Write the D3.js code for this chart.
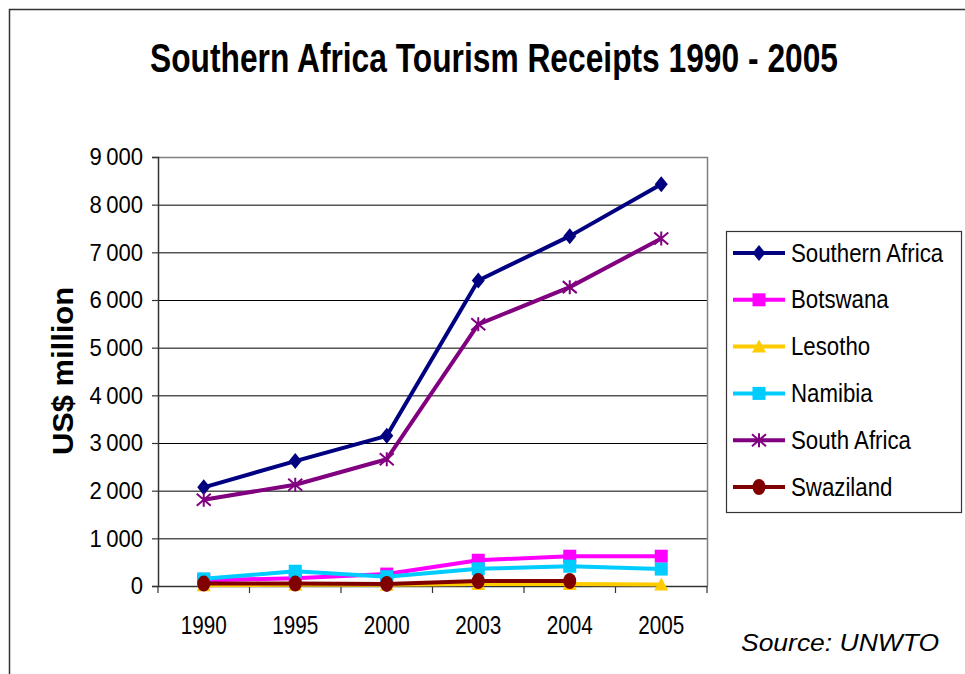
<!DOCTYPE html>
<html><head><meta charset="utf-8">
<script src="https://cdn.jsdelivr.net/npm/d3@7"></script>
<style>
body{margin:0;background:#fff}
svg{display:block}
text{font-family:"Liberation Sans",Arial,Helvetica,sans-serif;fill:#000}
</style>
</head><body>
<svg id="c" width="965" height="674"></svg>
<script>
// ---- data ----
const categories = ["1990","1995","2000","2003","2004","2005"];
const seriesNames = ["Southern Africa","Botswana","Lesotho","Namibia","South Africa","Swaziland"];
const southernAfrica = [2070,2620,3150,6410,7340,8430];
const botswana       = [117,165,250,540,625,625];
const lesotho        = [17,27,24,40,40,30];
const namibia        = [150,310,195,360,415,355];
const southAfrica    = [1810,2125,2660,5490,6270,7290];
const swaziland      = [50,50,43,105,105,null];
const yTicks = [0,1000,2000,3000,4000,5000,6000,7000,8000,9000];
const seriesColors  = ["#000080","#FF00FF","#FFCC00","#00CCFF","#800080","#800000"];
const seriesMarkers = ["diamond","square","triangle","square","star","circle"];
const titleText = "Southern Africa Tourism Receipts 1990 - 2005";
const yAxisTitle = "US$ million";
const sourceText = "Source: UNWTO";

const seriesValues = [southernAfrica,botswana,lesotho,namibia,southAfrica,swaziland];
const series = seriesNames.map((n,i)=>({name:n,values:seriesValues[i],color:seriesColors[i],marker:seriesMarkers[i]}));

const svg = d3.select("#c");
function fit(sel, w){ sel.each(function(){ this.setAttribute("textLength", w); this.setAttribute("lengthAdjust","spacingAndGlyphs"); }); }
function squeeze(sel, f){ sel.each(function(){ const L=this.getComputedTextLength(); this.setAttribute("textLength", L*f); this.setAttribute("lengthAdjust","spacingAndGlyphs"); }); }

// outer frame
svg.append("rect").attr("x",9.5).attr("y",9.5).attr("width",1000).attr("height",1000)
  .attr("fill","none").attr("stroke","#333").attr("stroke-width",1.5);

const plot = {left:158, right:707, top:157, bottom:586};
const x = d3.scaleBand().domain(categories).range([plot.left, plot.right]).padding(0);
const y = d3.scaleLinear().domain([0,9000]).range([plot.bottom, plot.top]);

// gridlines
svg.append("g").selectAll("line").data(yTicks.filter(v=>v>0 && v<9000)).join("line")
  .attr("x1",plot.left).attr("x2",plot.right).attr("y1",d=>y(d)+0.5).attr("y2",d=>y(d)+0.5)
  .attr("stroke","#000").attr("stroke-width",1);
// plot border top/right
svg.append("path").attr("d",`M${plot.left},${plot.top+0.5}H${plot.right+0.5}V${plot.bottom}`)
  .attr("fill","none").attr("stroke","#808080").attr("stroke-width",1.5);

// y axis
const fmt = d => d===0 ? "0" : d3.format(",")(d).replace(",", "\u2009");
const yAxis = svg.append("g").attr("transform",`translate(${plot.left},0)`)
  .call(d3.axisLeft(y).tickValues(yTicks).tickFormat(fmt).tickSize(6).tickPadding(9));
yAxis.select(".domain").attr("stroke","#333").attr("stroke-width",1.5);
yAxis.selectAll(".tick line").attr("stroke","#333").attr("stroke-width",1.2);
yAxis.selectAll("text").attr("font-size",24).attr("font-family","Liberation Sans, Arial, sans-serif").attr("fill","#000");
squeeze(yAxis.selectAll("text"), 0.92);

// x axis
const xAxis = svg.append("g").attr("transform",`translate(0,${plot.bottom})`)
  .call(d3.axisBottom(x).tickSize(0).tickPadding(0));
xAxis.select(".domain").attr("stroke","#333").attr("stroke-width",1.5);
xAxis.selectAll(".tick text").attr("font-size",25).attr("font-family","Liberation Sans, Arial, sans-serif")
  .attr("fill","#000").attr("dy",null).attr("y",48);
fit(xAxis.selectAll(".tick text"), 46);
// tick marks at band boundaries
const bounds = categories.map(c=>x(c)).concat([x(categories[categories.length-1])+x.bandwidth()]);
svg.append("g").selectAll("line").data(bounds).join("line")
  .attr("x1",d=>d).attr("x2",d=>d).attr("y1",plot.bottom).attr("y2",plot.bottom+7)
  .attr("stroke","#333").attr("stroke-width",1.2);

// y axis title
const yt = svg.append("text").attr("transform","translate(73,371) rotate(-90)")
  .attr("text-anchor","middle").attr("font-size",29).attr("font-weight","bold").text(yAxisTitle);
fit(yt,168);

// title (slightly stretched vertically to match the condensed original)
const tt = svg.append("text").attr("transform","translate(494,72) scale(1,1.08)").attr("text-anchor","middle")
  .attr("font-size",37).attr("font-weight","bold").text(titleText);
fit(tt,688);

// source
const st = svg.append("text").attr("x",741).attr("y",651).attr("font-size",24)
  .attr("font-style","italic").text(sourceText);
fit(st,198);

// markers
function drawMarker(g, type, color){
  if(type==="diamond"){
    g.append("path").attr("d","M0,-8L6.5,0L0,8L-6.5,0Z").attr("fill",color);
  } else if(type==="square"){
    g.append("rect").attr("x",-6.5).attr("y",-6.5).attr("width",13).attr("height",13).attr("fill",color);
  } else if(type==="triangle"){
    g.append("path").attr("d","M0,-7L7,6L-7,6Z").attr("fill",color);
  } else if(type==="circle"){
    g.append("ellipse").attr("rx",6.5).attr("ry",8).attr("fill",color);
  } else if(type==="star"){
    g.append("path").attr("d","M0,-7V7M-7,-6L7,6M-7,6L7,-6").attr("stroke",color).attr("stroke-width",2).attr("fill","none");
  }
}

const line = d3.line().defined(d=>d.v!=null).x(d=>x(d.c)+x.bandwidth()/2).y(d=>y(d.v));
const gSeries = svg.append("g");
series.forEach(s=>{
  const pts = s.values.map((v,i)=>({c:categories[i],v}));
  const g = gSeries.append("g");
  g.append("path").datum(pts).attr("d",line).attr("fill","none").attr("stroke",s.color)
    .attr("stroke-width",4).attr("stroke-linejoin","round");
  pts.filter(p=>p.v!=null).forEach(p=>{
    const m = g.append("g").attr("transform",`translate(${x(p.c)+x.bandwidth()/2},${y(p.v)})`);
    drawMarker(m, s.marker, s.color);
  });
});

// legend
const lg = svg.append("g");
lg.append("rect").attr("x",726.5).attr("y",231.5).attr("width",235).attr("height",281)
  .attr("fill","#fff").attr("stroke","#333").attr("stroke-width",1.2);
series.forEach((s,i)=>{
  const cy = 253 + i*46.8;
  const g = lg.append("g");
  g.append("line").attr("x1",733).attr("x2",785).attr("y1",cy).attr("y2",cy).attr("stroke",s.color).attr("stroke-width",4);
  const m = g.append("g").attr("transform",`translate(759,${cy})`);
  drawMarker(m, s.marker, s.color);
  const t = g.append("text").attr("x",791).attr("y",cy+8.6).attr("font-size",25).text(s.name);
  squeeze(t,0.89);
});
</script>
</body></html>
